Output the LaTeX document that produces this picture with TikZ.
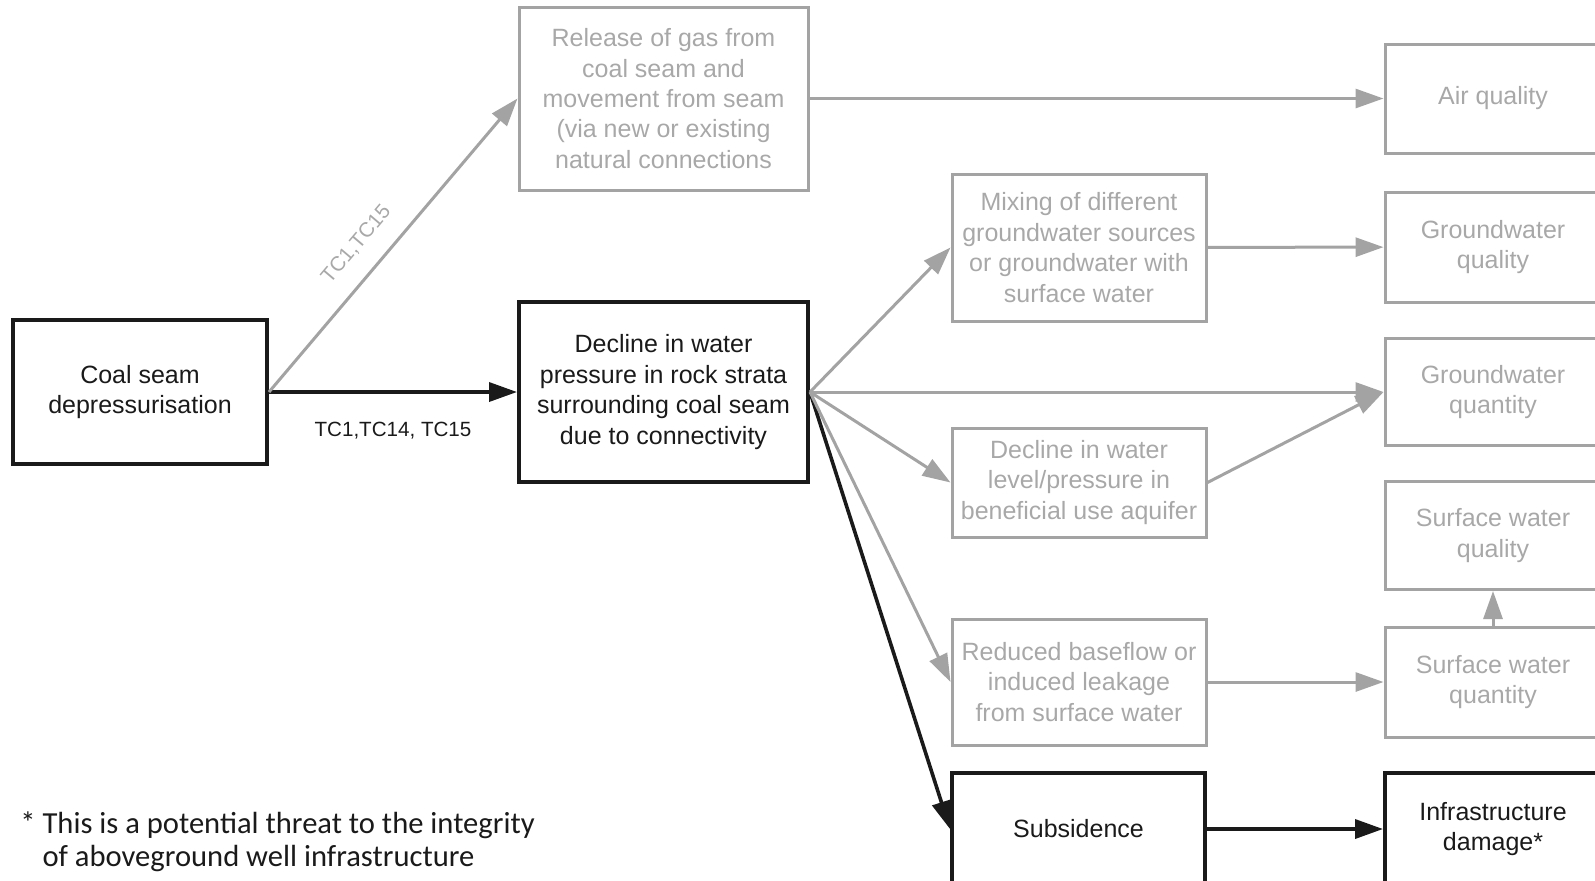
\documentclass[tikz,border=0pt]{standalone}
\usepackage{fontspec}
\setmainfont{Liberation Sans}
\newfontfamily\notefont{Carlito}
\usetikzlibrary{arrows.meta}
\definecolor{linegray}{HTML}{A3A3A3}
\definecolor{textgray}{HTML}{A8A8A8}
\definecolor{inkblack}{HTML}{1A1A1A}

\begin{document}
\begin{tikzpicture}[x=0.5pt, y=-0.5pt, >={Triangle[length=14pt, width=9.5pt]},
        box/.style={draw, rectangle, inner sep=0pt, align=center,
            font=\fontsize{12.5}{15.2}\selectfont},
        bk/.style={box, inkblack, line width=2pt, text=inkblack},
        gy/.style={box, linegray, line width=1.5pt, text=textgray},
        tc/.style={font=\fontsize{10.3}{12}\selectfont}]
            \clip (0, 0) rectangle (1595, 880);
            % left and middle column
            \node[bk, minimum width=127pt, minimum height=72pt] (coal) at (140, 392) {Coal seam\\depressurisation};
            \node[bk, minimum width=144.5pt, minimum height=90pt] (decl) at (663.5, 392) {Decline in water\\pressure in rock strata\\surrounding coal seam\\due to connectivity};
            \node[gy, minimum width=144.5pt, minimum height=91.5pt] (gas) at (663.5, 98.5) {Release of gas from\\coal seam and\\movement from seam\\(via new or existing\\natural connections};
            % processes
            \node[gy, minimum width=127pt, minimum height=73.5pt] (mix) at (1079, 247.5) {Mixing of different\\groundwater sources\\or groundwater with\\surface water};
            \node[gy, minimum width=127pt, minimum height=54.5pt] (lvl) at (1079, 482.5) {Decline in water\\level/pressure in\\beneficial use aquifer};
            \node[gy, minimum width=127pt, minimum height=63pt] (base) at (1079, 682) {Reduced baseflow or\\induced leakage\\from surface water};
            \node[bk, minimum width=126.5pt, minimum height=56pt] (subs) at (1078.5, 829) {Subsidence};
            % outcomes
            \node[gy, minimum width=108pt, minimum height=54.5pt] (air) at (1493, 98.5) {Air quality};
            \node[gy, minimum width=108pt, minimum height=55pt] (gwql) at (1493, 247) {Groundwater\\quality};
            \node[gy, minimum width=108pt, minimum height=53.5pt] (gwqn) at (1493, 392) {Groundwater\\quantity};
            \node[gy, minimum width=108pt, minimum height=54pt] (swql) at (1493, 535.5) {Surface water\\quality};
            \node[gy, minimum width=108pt, minimum height=55pt] (swqn) at (1493, 682) {Surface water\\quantity};
            \node[bk, minimum width=108pt, minimum height=56pt] (infra) at (1493, 829) {Infrastructure\\damage*};
            % footnote
            \node[anchor=north west, inner sep=0pt, align=left, text=inkblack,
                font=\notefont\fontsize{15.3}{16.5}\selectfont] (note) at (20, 811)
                {* This is a potential threat to the integrity\\\hphantom{* }of aboveground well infrastructure};
            \path[->, inkblack, line width=1.8pt]
                (coal.east) edge node[below=11pt, tc, text=inkblack] {TC1,TC14, TC15} (decl.west)
                (decl.east) edge (subs.west)
                (subs) edge (infra)
            ;
            \path[->, linegray, line width=1.5pt]
                (coal.east) edge node[above=6pt, sloped, pos=0.44, tc, text=textgray] {TC1,TC15} (gas.west)
                (gas) edge (air)
                (decl.east) edge (mix.west)
                (decl.east) edge (gwqn.west)
                (decl.east) edge (lvl.west)
                (decl.east) edge (base.west)
                (mix) edge (gwql)
                (lvl.east) edge (gwqn.west)
                (base) edge (swqn)
                (swqn) edge (swql)
            ;
        \end{tikzpicture}
\end{document}
